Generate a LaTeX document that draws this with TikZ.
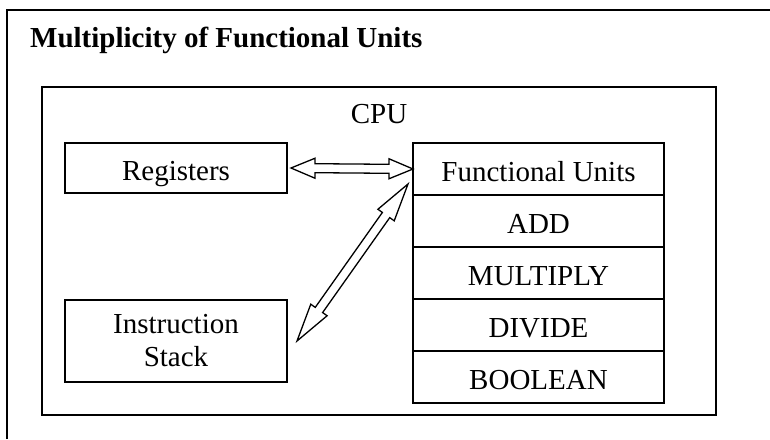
\documentclass[tikz,border=0pt]{standalone}
\usepackage{fontspec}
\setmainfont{Liberation Serif}
\usepackage{tikz}
\usetikzlibrary{positioning,calc}

% hollow double-headed arrow from #2 to #3, head length #1
\newcommand{\fatarrow}[3][24pt]{%
  \path let \p1=($(#3)-(#2)$), \n1={atan2(\y1,\x1)}, \n2={veclen(\x1,\y1)} in
    \pgfextra{\xdef\farang{\n1}\xdef\farlen{\n2}};
  \draw[fat, shift={(#2)}, rotate=\farang]
    (0pt,0pt) -- (#1,10pt) -- (#1,4.5pt) -- (\farlen-#1,4.5pt) -- (\farlen-#1,10pt)
    -- (\farlen,0pt) -- (\farlen-#1,-10pt) -- (\farlen-#1,-4.5pt)
    -- (#1,-4.5pt) -- (#1,-10pt) -- cycle;
}

\begin{document}
\begin{tikzpicture}[x=1pt, y=-1pt, font=\fontsize{29}{33}\selectfont, line width=1.6pt,
  box/.style={draw, outer sep=0pt, inner sep=0pt, align=center, minimum width=222pt},
  unit/.style={draw, outer sep=0pt, inner sep=0pt, minimum width=251pt, minimum height=52pt,
    text height=25pt, text depth=0pt},
  fat/.style={draw, fill=white, line width=1.3pt, line join=miter}]
\useasboundingbox (0,0) rectangle (770,439);
\draw (7,439) |- (770,10);
\node[anchor=base west, font=\fontsize{29}{33}\selectfont\bfseries] (title) at (26,47) {Multiplicity of Functional Units};
\node[draw, outer sep=0pt, anchor=north west, minimum width=674pt, minimum height=328pt] (cpu) at (42,87) {};
\node[below=36pt of cpu.north, anchor=base] (cpulbl) {CPU};
\node[box, minimum height=50pt, text height=25pt, text depth=0pt, anchor=north west] (reg) at (65,143) {Registers};
\node[box, minimum height=82pt, anchor=north west] (stack) at (65,300) {Instruction\\Stack};
\node[unit, anchor=north west] (fu) at (413,143) {Functional Units};
\node[unit, below=0pt of fu] (add) {ADD};
\node[unit, below=0pt of add] (mul) {MULTIPLY};
\node[unit, below=0pt of mul] (div) {DIVIDE};
\node[unit, below=0pt of div] (bool) {BOOLEAN};
\coordinate[right=4pt of reg.east] (h1);
\coordinate[right=10pt of stack.east] (d1);
\coordinate (d2) at ($(fu.west)+(-5,15)$);
\fatarrow{h1}{fu.west}
\fatarrow[38pt]{d1}{d2}
\end{tikzpicture}
\end{document}
